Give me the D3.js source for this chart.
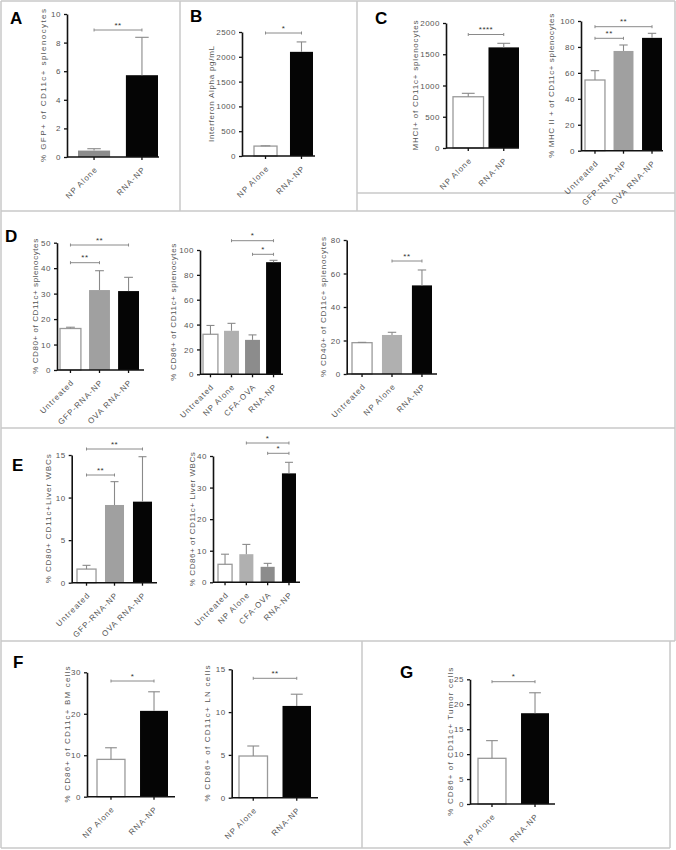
<!DOCTYPE html>
<html><head><meta charset="utf-8">
<script src="https://cdn.jsdelivr.net/npm/d3@7"></script>
<style>
body{margin:0;background:#fff}
svg{display:block}
text{font-family:"Liberation Sans",Arial,sans-serif}
</style></head><body>
<svg id="fig" width="676" height="850"></svg>
<script>
// ---------- DATA ----------
const cats2 = ["NP Alone", "RNA-NP"];
const cats3 = ["Untreated", "GFP-RNA-NP", "OVA RNA-NP"];
const cats4 = ["Untreated", "NP Alone", "CFA-OVA", "RNA-NP"];
const cats3b = ["Untreated", "NP Alone", "RNA-NP"];

const valsA = [0.45, 5.72],   errA = [0.58, 8.37];
const valsB = [200, 2100],    errB = [205, 2300];
const valsC1 = [820, 1610],   errC1 = [875, 1675];
const valsC2 = [54.5, 76.9, 87.0], errC2 = [61.7, 81.5, 90.5];
const valsD1 = [16.3, 31.4, 31.0], errD1 = [16.8, 39.0, 36.4];
const valsD2 = [32.2, 35.0, 27.7, 90.2], errD2 = [39.3, 41.0, 31.7, 91.7];
const valsD3 = [18.7, 23.3, 52.9], errD3 = [18.9, 24.9, 62.1];
const valsE1 = [1.6, 9.13, 9.52], errE1 = [2.04, 11.87, 14.8];
const valsE2 = [5.7, 8.9, 4.9, 34.5], errE2 = [8.9, 12.0, 6.0, 38.0];
const valsF1 = [9.0, 20.7],   errF1 = [11.8, 25.3];
const valsF2 = [4.87, 10.72], errF2 = [6.04, 12.09];
const valsG = [9.16, 18.2],   errG = [12.7, 22.3];

const ticksA = [0, 2, 4, 6, 8, 10];
const ticksB = [0, 500, 1000, 1500, 2000, 2500];
const ticksC1 = [0, 500, 1000, 1500, 2000];
const ticksC2 = [0, 20, 40, 60, 80, 100];
const ticksD1 = [0, 10, 20, 30, 40, 50];
const ticksD2 = [0, 20, 40, 60, 80, 100];
const ticksD3 = [0, 20, 40, 60, 80];
const ticksE1 = [0, 5, 10, 15];
const ticksE2 = [0, 10, 20, 30, 40];
const ticksF1 = [0, 10, 20, 30];
const ticksF2 = [0, 5, 10, 15];
const ticksG = [0, 5, 10, 15, 20, 25];

const fillA = ["dark", "black"], fillWB = ["white", "black"];
const fill3 = ["white", "mid", "black"], fill4 = ["white", "light", "dark", "black"], fill3b = ["white", "light", "black"];

const titleA = "% GFP+ of CD11c+ splenocytes";
const titleB = "Interferon Alpha pg/mL";
const titleC1 = "MHCI+ of CD11c+ splenocytes";
const titleC2 = "% MHC II + of CD11c+ splenocytes";
const titleD1 = "% CD80+ of CD11c+ splenocytes";
const titleD2 = "% CD86+ of CD11c+ splenocytes";
const titleD3 = "% CD40+ of CD11c+ splenocytes";
const titleE1 = "% CD80+ CD11c+Liver WBCs";
const titleE2 = "% CD86+ of CD11c+ Liver WBCs";
const titleF1 = "% CD86+ of CD11c+ BM cells";
const titleF2 = "% CD86+ of CD11c+ LN cells";
const titleG = "% CD86+ of CD11c+ Tumor cells";

// significance comparisons [from index, to index, label]
const sigA = [[0, 1, "**"]], sigB = [[0, 1, "*"]], sigC1 = [[0, 1, "****"]];
const sigC2 = [[0, 2, "**"], [0, 1, "**"]], sigD1 = [[0, 2, "**"], [0, 1, "**"]];
const sigD2 = [[1, 3, "*"], [2, 3, "*"]], sigD3 = [[1, 2, "**"]];
const sigE1 = [[0, 2, "**"], [0, 1, "**"]], sigE2 = [[1, 3, "*"], [2, 3, "*"]];
const sigF1 = [[0, 1, "*"]], sigF2 = [[0, 1, "**"]], sigG = [[0, 1, "*"]];

// ---------- STYLE / LAYOUT ----------
const fillColors = {white: "#ffffff", mid: "#a0a0a0", light: "#b0b0b0", dark: "#8c8c8c", black: "#050505"};

const panels = [
  {cats: cats2, vals: valsA, errs: errA, fill: fillA, ticks: ticksA, title: titleA, sig: sigA,
   L: {ax: 67, end: 159, top: 14, bot: 157, bars: [78, 158], pad: 0.33, tx: 43, tl: 153, by: [30]}},
  {cats: cats2, vals: valsB, errs: errB, fill: fillWB, ticks: ticksB, title: titleB, sig: sigB,
   L: {ax: 242, end: 315, top: 32, bot: 156, bars: [254, 313], pad: 0.36, tx: 211, tl: 96, by: [33]}},
  {cats: cats2, vals: valsC1, errs: errC1, fill: fillWB, ticks: ticksC1, title: titleC1, sig: sigC1,
   L: {ax: 446, end: 519, top: 23, bot: 148, bars: [453, 519], pad: 0.14, tx: 415, tl: 130, by: [34.5]}},
  {cats: cats3, vals: valsC2, errs: errC2, fill: fill3, ticks: ticksC2, title: titleC2, sig: sigC2,
   L: {ax: 581, end: 663, top: 21, bot: 150.7, bars: [585, 662], pad: 0.3, tx: 551, tl: 144, by: [26.7, 38.3]}},
  {cats: cats3, vals: valsD1, errs: errD1, fill: fill3, ticks: ticksD1, title: titleD1, sig: sigD1,
   L: {ax: 57, end: 144, top: 242.7, bot: 370, bars: [60, 139], pad: 0.28, tx: 35, tl: 135, by: [245, 262.7]}},
  {cats: cats4, vals: valsD2, errs: errD2, fill: fill4, ticks: ticksD2, title: titleD2, sig: sigD2,
   L: {ax: 200, end: 283, top: 250, bot: 374.3, bars: [203, 281], pad: 0.29, tx: 173, tl: 137, by: [240.7, 254.3]}},
  {cats: cats3b, vals: valsD3, errs: errD3, fill: fill3b, ticks: ticksD3, title: titleD3, sig: sigD3,
   L: {ax: 346.7, end: 437, top: 240, bot: 374, bars: [352, 432], pad: 0.33, tx: 323, tl: 140, by: [261]}},
  {cats: cats3, vals: valsE1, errs: errE1, fill: fill3, ticks: ticksE1, title: titleE1, sig: sigE1,
   L: {ax: 71.7, end: 157, top: 455, bot: 582.7, bars: [77, 152], pad: 0.32, tx: 48, tl: 129, by: [449, 475]}},
  {cats: cats4, vals: valsE2, errs: errE2, fill: fill4, ticks: ticksE2, title: titleE2, sig: sigE2,
   L: {ax: 213, end: 300, top: 456, bot: 582.3, bars: [218, 296], pad: 0.34, tx: 192, tl: 134, by: [443, 453.3]}},
  {cats: cats2, vals: valsF1, errs: errF1, fill: fillWB, ticks: ticksF1, title: titleF1, sig: sigF1,
   L: {ax: 87, end: 175, top: 672.3, bot: 796.7, bars: [97, 168], pad: 0.35, tx: 67, tl: 136, by: [681]}},
  {cats: cats2, vals: valsF2, errs: errF2, fill: fillWB, ticks: ticksF2, title: titleF2, sig: sigF2,
   L: {ax: 231.7, end: 318, top: 669.3, bot: 797.7, bars: [239, 311], pad: 0.345, tx: 207, tl: 136, by: [678.3]}},
  {cats: cats2, vals: valsG, errs: errG, fill: fillWB, ticks: ticksG, title: titleG, sig: sigG,
   L: {ax: 470, end: 555, top: 679.3, bot: 804, bars: [478, 549], pad: 0.35, tx: 450, tl: 148, by: [681.7]}}
];

const letters = [["A", 10, 24], ["B", 190, 22], ["C", 375, 24], ["D", 5, 242], ["E", 12, 471], ["F", 13, 668], ["G", 400, 678]];

const svg = d3.select("#fig");
const frameColor = "#c8c8c8";

// panel frames
const frameLines = [
  [1, 1, 675, 1], [1, 1, 1, 848], [675, 1, 675, 641],
  [180, 1, 180, 211], [357, 1, 357, 211], [357, 193, 675, 193],
  [1, 211, 675, 211], [1, 428, 675, 428], [1, 641, 675, 641],
  [362, 641, 362, 848], [670, 641, 670, 848], [1, 848, 670, 848]
];
svg.append("g").selectAll("line").data(frameLines).join("line")
  .attr("x1", d => d[0]).attr("y1", d => d[1]).attr("x2", d => d[2]).attr("y2", d => d[3])
  .attr("stroke", frameColor).attr("stroke-width", 1.5);

svg.append("g").selectAll("text").data(letters).join("text")
  .attr("x", d => d[1]).attr("y", d => d[2]).text(d => d[0])
  .attr("font-size", 17).attr("font-weight", "bold").attr("fill", "#000");

const FONT = '"Liberation Sans",Arial,sans-serif';

function drawPanel(p) {
  const L = p.L;
  const g = svg.append("g");
  const y = d3.scaleLinear().domain([0, p.ticks[p.ticks.length - 1]]).range([L.bot, L.top]);
  const x = d3.scaleBand().domain(p.cats).range(L.bars).paddingInner(L.pad).paddingOuter(0);
  const bw = x.bandwidth();

  // bars
  g.selectAll("rect.bar").data(p.cats).join("rect").attr("class", "bar")
    .attr("x", d => x(d)).attr("width", bw)
    .attr("y", (d, i) => y(p.vals[i])).attr("height", (d, i) => L.bot - y(p.vals[i]))
    .attr("fill", (d, i) => fillColors[p.fill[i]])
    .attr("stroke", (d, i) => p.fill[i] === "white" ? "#9a9a9a" : "none")
    .attr("stroke-width", 1.3);

  // error bars (upper only)
  const eg = g.append("g").attr("stroke", "#8a8a8a").attr("stroke-width", 1.1);
  p.cats.forEach((c, i) => {
    const cx = x(c) + bw / 2, cw = Math.max(4, bw * 0.21);
    eg.append("line").attr("x1", cx).attr("x2", cx).attr("y1", y(p.vals[i])).attr("y2", y(p.errs[i]));
    eg.append("line").attr("x1", cx - cw).attr("x2", cx + cw).attr("y1", y(p.errs[i])).attr("y2", y(p.errs[i]));
  });

  // y axis
  const ya = g.append("g").attr("transform", `translate(${L.ax},0)`)
    .call(d3.axisLeft(y).tickValues(p.ticks).tickFormat(d3.format("d"))
      .tickSize(3).tickSizeOuter(0).tickPadding(3));
  ya.select(".domain").attr("stroke", "#111").attr("stroke-width", 1.6);
  ya.selectAll(".tick line").attr("stroke", "#111").attr("stroke-width", 1.3);
  ya.selectAll("text").attr("font-size", 8).attr("fill", "#555").attr("letter-spacing", "0.5px")
    .attr("font-family", FONT);

  // x axis
  g.append("line").attr("x1", L.ax).attr("x2", L.end).attr("y1", L.bot).attr("y2", L.bot)
    .attr("stroke", "#111").attr("stroke-width", 1.6);
  const xa = g.append("g").attr("transform", `translate(0,${L.bot})`)
    .call(d3.axisBottom(x).tickSize(3).tickSizeOuter(0));
  xa.select(".domain").remove();
  xa.selectAll(".tick line").attr("stroke", "#111").attr("stroke-width", 1.3);
  xa.selectAll("text")
    .attr("y", null).attr("dy", "0.35em")
    .attr("transform", "translate(2,11) rotate(-45)")
    .attr("text-anchor", "end")
    .attr("font-size", 8).attr("fill", "#555").attr("letter-spacing", "1px")
    .attr("font-family", FONT);

  // y title
  g.append("text")
    .attr("transform", `translate(${L.tx},${(L.top + L.bot) / 2}) rotate(-90)`)
    .attr("text-anchor", "middle").attr("dy", "0.35em")
    .attr("font-size", 8).attr("fill", "#555")
    .attr("textLength", L.tl).attr("lengthAdjust", "spacing")
    .text(p.title);

  // significance brackets
  p.sig.forEach((s, k) => {
    const by = L.by[k];
    const x1 = x(p.cats[s[0]]) + bw / 2, x2 = x(p.cats[s[1]]) + bw / 2;
    const bg = g.append("g").attr("stroke", "#8a8a8a").attr("stroke-width", 1);
    bg.append("line").attr("x1", x1).attr("x2", x2).attr("y1", by).attr("y2", by);
    bg.append("line").attr("x1", x1).attr("x2", x1).attr("y1", by - 1.5).attr("y2", by + 1.5);
    bg.append("line").attr("x1", x2).attr("x2", x2).attr("y1", by - 1.5).attr("y2", by + 1.5);
    g.append("text").attr("x", (x1 + x2) / 2).attr("y", by - 2.5)
      .attr("text-anchor", "middle").attr("font-size", 8).attr("fill", "#333")
      .attr("letter-spacing", "0.5px").text(s[2]);
  });
}

panels.forEach(drawPanel);
</script>
</body></html>
